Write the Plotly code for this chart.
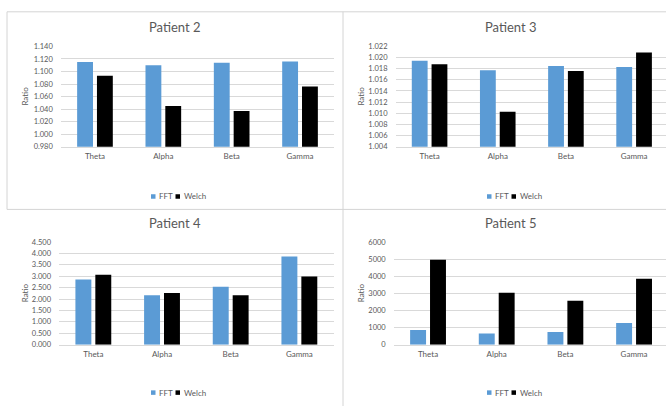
import plotly.graph_objects as go

# Frequency bands and per-patient power ratios for the two spectral estimators
bands = ["Theta", "Alpha", "Beta", "Gamma"]

p2_fft = [1.115, 1.110, 1.114, 1.116]
p2_welch = [1.093, 1.045, 1.037, 1.076]

p3_fft = [1.0194, 1.0177, 1.0185, 1.0183]
p3_welch = [1.0188, 1.0103, 1.0176, 1.0209]

p4_fft = [2.86, 2.16, 2.54, 3.86]
p4_welch = [3.06, 2.26, 2.16, 2.99]

p5_fft = [860, 650, 745, 1260]
p5_welch = [4960, 3030, 2570, 3850]

FFT_COLOR = "#5B9BD5"
WELCH_COLOR = "#000000"
TEXT_COLOR = "#595959"
GRID_COLOR = "#D9D9D9"
FONT = "Lato, Open Sans, Arial, sans-serif"

W, H = 666, 411


def fx(x):
    return x / W


def fy(y):
    return 1 - y / H


# Panel geometry in page pixels (left, right of plot area; top, bottom of plot area)
panels = [
    dict(title="Patient 2", fft=p2_fft, welch=p2_welch, yr=[0.98, 1.14], dtick=0.02, fmt=".3f",
         left=60.8, right=334.2, xr=[-0.5, 3.5], top=43.3, bottom=146, cx=175, ty=24, ly=196.8, rx=25),
    dict(title="Patient 3", fft=p3_fft, welch=p3_welch, yr=[1.004, 1.022], dtick=0.002, fmt=".3f",
         left=395.5, right=666, xr=[-0.5, 3.468], top=43.3, bottom=146, cx=511, ty=24, ly=196.8, rx=361),
    dict(title="Patient 4", fft=p4_fft, welch=p4_welch, yr=[0, 4.5], dtick=0.5, fmt=".3f",
         left=59, right=333.7, xr=[-0.5, 3.5], top=243.3, bottom=348.3, cx=175, ty=224, ly=397.3, rx=25),
    dict(title="Patient 5", fft=p5_fft, welch=p5_welch, yr=[0, 6000], dtick=1000, fmt="d",
         left=393.7, right=666, xr=[-0.5, 3.465], top=243.3, bottom=348.3, cx=511, ty=224, ly=397.3, rx=361),
]

fig = go.Figure()
annotations = []
shapes = []
layout_axes = {}

for i, p in enumerate(panels, start=1):
    xa = "x" if i == 1 else f"x{i}"
    ya = "y" if i == 1 else f"y{i}"
    fig.add_trace(go.Bar(x=bands, y=p["fft"], name="FFT", marker_color=FFT_COLOR,
                         marker_line_width=0, xaxis=xa, yaxis=ya, showlegend=False))
    fig.add_trace(go.Bar(x=bands, y=p["welch"], name="Welch", marker_color=WELCH_COLOR,
                         marker_line_width=0, xaxis=xa, yaxis=ya, showlegend=False))

    xkey = "xaxis" if i == 1 else f"xaxis{i}"
    ykey = "yaxis" if i == 1 else f"yaxis{i}"
    layout_axes[xkey] = dict(
        domain=[fx(p["left"]), fx(p["right"])], range=p["xr"], type="category",
        anchor=ya, showgrid=False, zeroline=False, showline=True, linecolor=GRID_COLOR,
        linewidth=1, ticks="", ticklabelstandoff=2,
        tickfont=dict(size=8, color=TEXT_COLOR, family=FONT),
    )
    layout_axes[ykey] = dict(
        domain=[fy(p["bottom"]), fy(p["top"])], range=p["yr"], dtick=p["dtick"], tick0=p["yr"][0],
        tickformat=p["fmt"], anchor=xa, showgrid=True, gridcolor=GRID_COLOR, gridwidth=1,
        zeroline=False, showline=False, ticks="", ticklabelstandoff=7,
        tickfont=dict(size=7.5, color=TEXT_COLOR, family=FONT),
    )

    # Panel title
    annotations.append(dict(text=p["title"], x=fx(p["cx"]), y=fy(p["ty"]), xref="paper", yref="paper",
                            xanchor="center", yanchor="middle", showarrow=False,
                            font=dict(size=13, color=TEXT_COLOR, family=FONT)))
    # Y axis title
    annotations.append(dict(text="Ratio", x=fx(p["rx"]), y=fy((p["top"] + p["bottom"]) / 2),
                            xref="paper", yref="paper", xanchor="center", yanchor="middle",
                            textangle=-90, showarrow=False,
                            font=dict(size=8, color=TEXT_COLOR, family=FONT)))
    # Legend swatches and labels
    cx, ly = p["cx"], p["ly"]
    for x0, color, label in [(cx - 24, FFT_COLOR, "FFT"), (cx + 0.5, WELCH_COLOR, "Welch")]:
        shapes.append(dict(type="rect", xref="paper", yref="paper",
                           x0=fx(x0), x1=fx(x0 + 4.5), y0=fy(ly + 2.3), y1=fy(ly - 2.3),
                           fillcolor=color, line=dict(width=0)))
        annotations.append(dict(text=label, x=fx(x0 + 6), y=fy(ly), xref="paper", yref="paper",
                                xanchor="left", yanchor="middle", showarrow=False,
                                font=dict(size=8, color=TEXT_COLOR, family=FONT)))

# Chart frame lines separating the four panels
frame = dict(color="#D4D4D4", width=1)
for x0, y0, x1, y1 in [(7, 8, 666, 8), (7, 210, 666, 210), (7, 8, 7, 210), (343, 8, 343, 411)]:
    shapes.append(dict(type="line", xref="paper", yref="paper",
                       x0=fx(x0), y0=fy(y0), x1=fx(x1), y1=fy(y1), line=frame))

fig.update_layout(
    width=W, height=H, margin=dict(l=0, r=0, t=0, b=0),
    paper_bgcolor="white", plot_bgcolor="white",
    barmode="group", bargap=0.42, bargroupgap=0.2,
    annotations=annotations, shapes=shapes, showlegend=False,
    font=dict(family=FONT, color=TEXT_COLOR),
    **layout_axes,
)

fig.write_html("out.html")
